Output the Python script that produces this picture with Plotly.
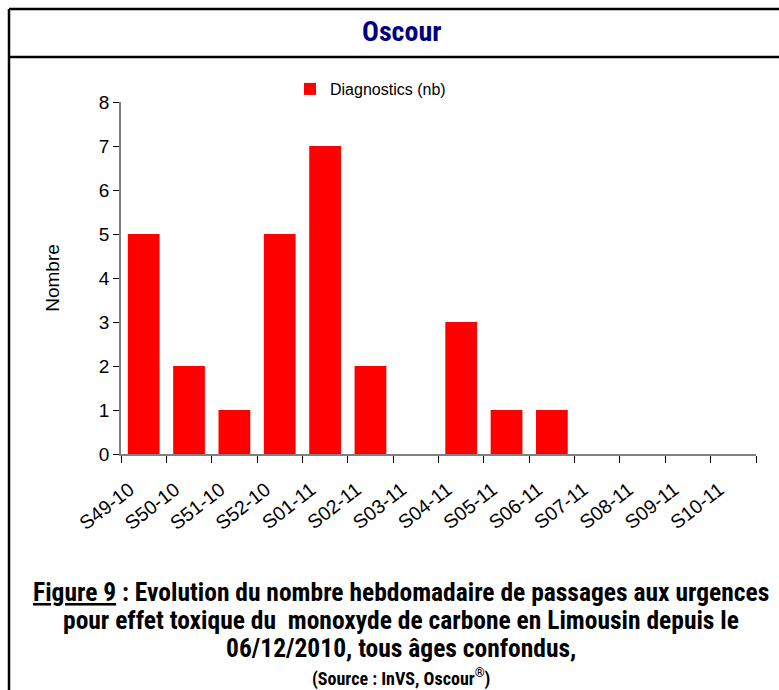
import plotly.graph_objects as go

weeks = ["S49-10", "S50-10", "S51-10", "S52-10", "S01-11", "S02-11", "S03-11",
         "S04-11", "S05-11", "S06-11", "S07-11", "S08-11", "S09-11", "S10-11"]
diagnostics = [5, 2, 1, 5, 7, 2, 0, 3, 1, 1, 0, 0, 0, 0]
y_ticks = [0, 1, 2, 3, 4, 5, 6, 7, 8]
series_name = "Diagnostics (nb)"
header_title = "Oscour"
caption_lines = [
    "<u>Figure 9</u> : Evolution du nombre hebdomadaire de passages aux urgences",
    "pour effet toxique du  monoxyde de carbone en Limousin depuis le",
    "06/12/2010, tous âges confondus,",
]
source_text = "(Source : InVS, Oscour<sup>®</sup>)"

W, H = 779, 690
L, R, T, B = 121, 756, 102, 454  # plot area in pixels


def px(x):
    return (x - L) / (R - L)


def py(y):
    return (B - y) / (B - T)


NARROW = "Roboto Condensed, DejaVu Sans Condensed, sans-serif"
ARIAL = "Liberation Sans, Arial, sans-serif"

fig = go.Figure()
fig.add_trace(go.Bar(
    x=weeks, y=diagnostics, name=series_name,
    marker=dict(color="#FF0000", line=dict(width=0)),
    showlegend=True,
))

annotations = [
    dict(text="<b>" + header_title + "</b>", x=px(401), y=py(31), xref="paper", yref="paper",
         showarrow=False, xanchor="center", yanchor="middle",
         font=dict(family=NARROW, size=28, color="#000080")),
]
caption_y = [592, 620, 648]
for line, yy in zip(caption_lines, caption_y):
    annotations.append(dict(text="<b>" + line + "</b>", x=px(401), y=py(yy), xref="paper", yref="paper",
                            showarrow=False, xanchor="center", yanchor="middle",
                            font=dict(family=NARROW, size=25.5, color="black")))
annotations.append(dict(text="<b>" + source_text + "</b>", x=px(401), y=py(677), xref="paper", yref="paper",
                        showarrow=False, xanchor="center", yanchor="middle",
                        font=dict(family=NARROW, size=18, color="black")))

shapes = [
    dict(type="line", xref="paper", yref="paper", x0=px(9), x1=px(800), y0=py(9), y1=py(9),
         line=dict(color="black", width=2.5)),
    dict(type="line", xref="paper", yref="paper", x0=px(9), x1=px(800), y0=py(57), y1=py(57),
         line=dict(color="black", width=2.5)),
    dict(type="line", xref="paper", yref="paper", x0=px(9), x1=px(9), y0=py(9), y1=py(700),
         line=dict(color="black", width=2.5)),
]

fig.update_layout(
    width=W, height=H,
    margin=dict(l=L, r=W - R, t=T, b=H - B, pad=0),
    paper_bgcolor="white", plot_bgcolor="white",
    bargap=0.3,
    font=dict(family=ARIAL, color="black"),
    showlegend=True,
    legend=dict(orientation="h", x=px(290), y=py(72), xanchor="left", yanchor="top",
                font=dict(family=ARIAL, size=16, color="black"), bgcolor="rgba(0,0,0,0)",
                itemwidth=30),
    xaxis=dict(type="category", categoryorder="array", categoryarray=weeks,
               tickson="boundaries", ticks="outside", ticklen=7, tickcolor="black", tickwidth=1,
               showline=True, linecolor="#808080", linewidth=1.5, showgrid=False,
               tickangle=-38, tickfont=dict(family=ARIAL, size=19.5, color="black"),
               ticklabelstandoff=15, ticklabelshift=-14,
               range=[-0.5, len(weeks) - 0.5]),
    yaxis=dict(range=[0, 8], tickvals=y_ticks, ticks="outside", ticklen=6, tickcolor="black",
               tickwidth=1, showline=True, linecolor="#808080", linewidth=1.5, showgrid=False,
               zeroline=False, tickfont=dict(family=ARIAL, size=19, color="black"),
               title=dict(text="Nombre", font=dict(family=ARIAL, size=19, color="black"), standoff=34)),
    annotations=annotations,
    shapes=shapes,
)

fig.write_html("out.html", config={"displayModeBar": False},
               post_script="document.body.style.margin='0';")
